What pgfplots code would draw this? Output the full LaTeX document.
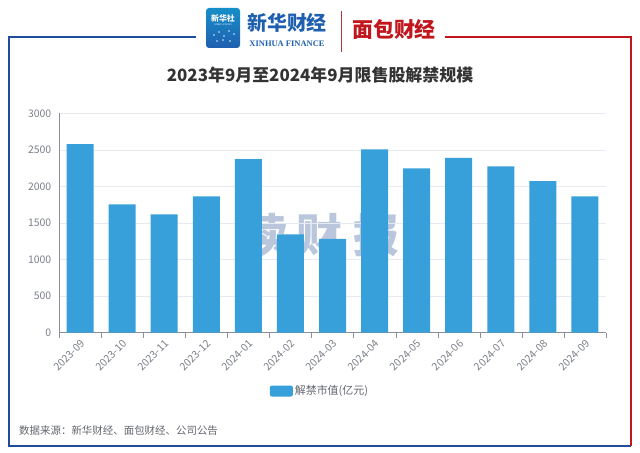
\documentclass[border=0pt]{standalone}
\usepackage{fontspec}
\setmainfont{Noto Sans CJK SC}
\newfontfamily\serif{Liberation Serif}
\usepackage{pgfplots}
\pgfplotsset{compat=1.18}
\definecolor{barblue}{HTML}{379FD9}
\definecolor{labelgray}{HTML}{7A7E88}
\definecolor{axisgray}{HTML}{8C8F99}
\definecolor{gridgray}{HTML}{E6EAF2}
\definecolor{frameblue}{HTML}{1E4E9A}
\definecolor{framered}{HTML}{C0161C}
\definecolor{titlegray}{HTML}{333333}
\definecolor{xhblue}{HTML}{1F5FB0}
\definecolor{wmark}{HTML}{BAC6DB}
\begin{document}
\begin{tikzpicture}[x=1bp,y=1bp]
\path (0,0) rectangle (640,453);
% frame
\draw[frameblue, line width=1.4bp] (196,416) -- (9,416) -- (9,7) -- (631,7);
\draw[framered, line width=1.4bp] (445,416) -- (631,416) -- (631,7);
% logos
\shade[top color=xhblue!70!cyan, bottom color=xhblue, rounded corners=3bp] (206,405) rectangle (240,445);
\node[text=white, font=\fontsize{8}{8}\selectfont\bfseries, inner sep=0] at (223,435) {新华社};
\node[text=white, font=\fontsize{2.5}{3}\selectfont\serif, inner sep=0] at (223,428) {XINHUA NEWS};
\foreach \p in {(214,418),(219,421),(224,417),(229,422),(234,419),(217,412),(223,413),(230,412)} \fill[white!85!xhblue] \p circle (0.8);
\node[text=xhblue, font=\fontsize{20}{20}\selectfont\bfseries, inner sep=0] at (287,430) {新华财经};
\node[text=xhblue, font=\fontsize{8.5}{9}\selectfont\serif\bfseries, inner sep=0] at (287,409) {XINHUA FINANCE};
\draw[framered!70!gray, line width=0.8bp] (341,401) -- (341,442);
\node[text=framered, font=\fontsize{21}{21}\selectfont\bfseries, inner sep=0] at (394,424) {面包财经};
% title
\node[text=titlegray, font=\fontsize{17}{17}\selectfont\bfseries, inner sep=0] at (320,378) {2023年9月至2024年9月限售股解禁规模};
% watermark (behind bars)
\node[text=wmark, font=\fontsize{46}{46}\selectfont\bfseries, inner sep=0] at (265,218) {读};
\node[text=wmark, font=\fontsize{46}{46}\selectfont\bfseries, inner sep=0] at (319,218) {财};
\node[text=wmark, font=\fontsize{46}{46}\selectfont\bfseries, inner sep=0] at (376,218) {报};
\begin{axis}[
  at={(59bp,120.3bp)}, anchor=south west,
  scale only axis, width=547bp, height=219.3bp,
  xmin=-0.5, xmax=12.5, ymin=0, ymax=3000,
  axis lines=left, axis line style={-, draw=axisgray},
  xtick={0,...,12},
  xticklabels={2023-09,2023-10,2023-11,2023-12,2024-01,2024-02,2024-03,2024-04,2024-05,2024-06,2024-07,2024-08,2024-09},
  minor xtick={-0.5,0.5,...,12.5},
  ytick={0,500,...,3000},
  xtick style={draw=none}, ytick style={draw=none},
  minor x tick style={draw=axisgray},
  minor tick length=5bp, tick align=outside,
  ymajorgrids, grid style={draw=gridgray},
  scaled ticks=false,
  /pgf/number format/1000 sep={},
  /pgf/number format/assume math mode=true,
  x tick label style={rotate=45, anchor=north east, font=\fontsize{10.5}{12}\selectfont, text=labelgray, inner sep=1.5bp},
  y tick label style={font=\fontsize{10.5}{12}\selectfont, text=labelgray},
  legend style={at={(0.477,-0.266)}, anchor=center, draw=none, fill=none, font=\fontsize{11}{12}\selectfont, text=labelgray!80!black},
]
\addplot[ybar, bar width=27bp, fill=barblue, draw=none,
  legend image code/.code={\fill[barblue, rounded corners=2bp] (0bp,-5.5bp) rectangle (23bp,5.5bp);}]
coordinates {(0,2578) (1,1757) (2,1620) (3,1866) (4,2376) (5,1346) (6,1282) (7,2509) (8,2249) (9,2390) (10,2276) (11,2075) (12,1866)};
\addlegendentry{解禁市值(亿元)}
\end{axis}
% footer
\node[anchor=west, text=labelgray!80!black, font=\fontsize{10.5}{12}\selectfont, inner sep=0] at (19,22) {数据来源：新华财经、面包财经、公司公告};
\end{tikzpicture}
\end{document}
